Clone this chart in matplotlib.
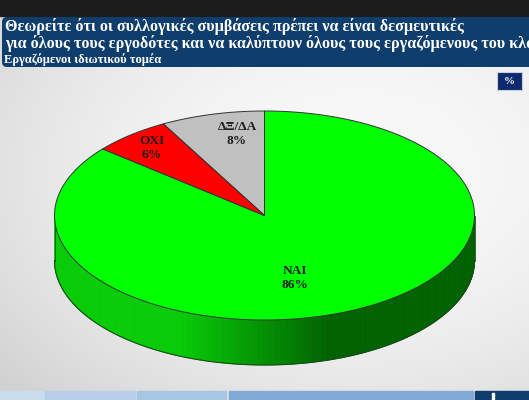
import numpy as np
import matplotlib
matplotlib.use("Agg")
import matplotlib.pyplot as plt
from matplotlib.patches import Polygon, Rectangle, FancyBboxPatch

# Survey answers (percent)
labels = ["ΝΑΙ", "ΔΞ/ΔΑ", "ΟΧΙ"]
values = [86, 8, 6]
colors = ["#00ff00", "#c0c0c0", "#ff0000"]

title_lines = ["Θεωρείτε ότι οι συλλογικές συμβάσεις πρέπει να είναι δεσμευτικές",
               "για όλους τους εργοδότες και να καλύπτουν όλους τους εργαζόμενους του κλάδου"]
subtitle = "Εργαζόμενοι ιδιωτικού τομέα"

W, H = 529, 400
fig = plt.figure(figsize=(W / 100, H / 100), dpi=100)
ax = fig.add_axes([0, 0, 1, 1])
ax.set_xlim(0, W)
ax.set_ylim(H, 0)
ax.axis("off")

# background: near-white with a soft gray fall-off towards the lower corners
yy, xx = np.mgrid[0:H, 0:W]
r = np.sqrt(((xx - 360) / 380.0) ** 2 + ((yy - 170) / 260.0) ** 2)
bg = np.clip(0.975 - 0.10 * r ** 2, 0.82, 1.0)
ax.imshow(np.dstack([bg, bg, bg]), extent=(0, W, H, 0), zorder=0, aspect="auto")

# dark strip at top of screen
ax.add_patch(Rectangle((0, 0), W, 16, color="#1c1c1c", zorder=1))

# title banner
ax.add_patch(FancyBboxPatch((2, 17), 540, 50,
                            boxstyle="round,pad=0,rounding_size=5",
                            facecolor="#0f3e6c", edgecolor="none", zorder=1))
serif = ["Liberation Serif", "DejaVu Serif"]
ax.text(5, 26.5, title_lines[0], color="white", fontsize=11.6, fontweight="bold",
        family=serif, va="center", ha="left", zorder=2)
ax.text(5, 43.5, title_lines[1], color="white", fontsize=11.6, fontweight="bold",
        family=serif, va="center", ha="left", zorder=2, clip_on=True)
ax.text(4, 60, subtitle, color="white", fontsize=9.0, fontweight="bold",
        family=serif, va="center", ha="left", zorder=2)

# percent badge
ax.add_patch(Rectangle((497, 72), 25, 18, facecolor="#0d2a6e", edgecolor="#c8d0e0",
                       lw=0.8, zorder=2))
ax.text(509.5, 81, "%", color="white", fontsize=8, fontweight="bold",
        family=serif, ha="center", va="center", zorder=3)

# bottom strip
strip = [(0, 45, "#c9dcec"), (45, 135, "#b7d0e8"), (137, 226, "#a6c6e4"),
         (229, 473, "#80a9d4"), (475, 529, "#0f3e6c")]
for x0, x1, c in strip:
    ax.add_patch(Rectangle((x0, 391), x1 - x0, 9, color=c, zorder=1))
ax.add_patch(Rectangle((492, 393), 2, 7, color="white", zorder=2))

# 3D pie geometry
cx, cy, rx, ry, depth = 264.5, 215.5, 210, 104.5, 45


def pt(a_deg):
    a = np.radians(a_deg)
    return cx + rx * np.cos(a), cy - ry * np.sin(a)


# side wall (front half), shaded left to right
angs = np.linspace(180, 360, 241)
for a0, a1 in zip(angs[:-1], angs[1:]):
    x0, y0 = pt(a0)
    x1, y1 = pt(a1)
    t = (0.5 * (x0 + x1) - (cx - rx)) / (2 * rx)
    dark = np.clip((t - 0.3) / 0.35, 0, 1)
    g = 0.80 - 0.41 * dark
    c = (0.03 * (1 - dark), g, 0.03 * (1 - dark))
    ax.add_patch(Polygon([(x0, y0), (x1, y1), (x1, y1 + depth), (x0, y0 + depth)],
                         closed=True, facecolor=c, edgecolor=c, lw=0.6, zorder=3))
bx = [pt(a)[0] for a in angs]
by = [pt(a)[1] + depth for a in angs]
ax.plot(bx, by, color="#1a4a1a", lw=0.8, zorder=4)
for a in (180, 360):
    x, y = pt(a)
    ax.plot([x, x], [y, y + depth], color="#1a4a1a", lw=0.6, zorder=4)

# top faces: ΝΑΙ runs clockwise from 12 o'clock, the others counter-clockwise
total = sum(values)
nai_span = 360 * values[0] / total
slices = [(90 - nai_span, 90, 0)]
a = 90.0
for i in (1, 2):
    span = 360 * values[i] / total
    slices.append((a, a + span, i))
    a += span
for a0, a1, i in slices:
    arc = np.linspace(a0, a1, 200)
    verts = [(cx, cy)] + [pt(t) for t in arc]
    ax.add_patch(Polygon(verts, closed=True, facecolor=colors[i],
                         edgecolor="#333333", lw=0.7, zorder=5))

# slice labels
label_pos = {0: (295, 278), 1: (237, 134), 2: (152, 148)}
for i, (x, y) in label_pos.items():
    ax.text(x, y, f"{labels[i]}\n{values[i]}%", color="#1e1e1e", fontsize=9.6,
            fontweight="bold", family=serif, ha="center", va="center",
            linespacing=1.15, zorder=6)

fig.savefig("out.png", dpi=100)
